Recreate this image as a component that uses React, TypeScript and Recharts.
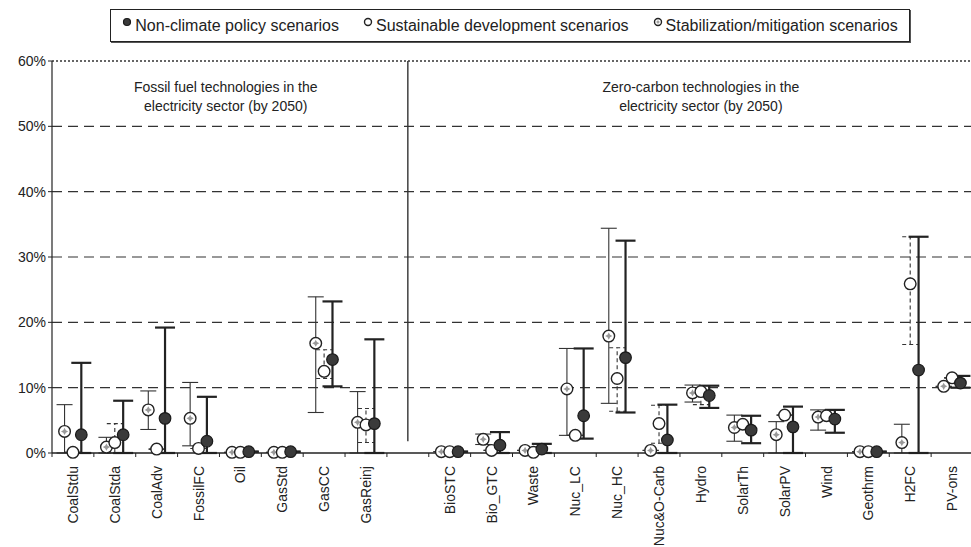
import React from 'react';
import {
  ScatterChart,
  Scatter,
  XAxis,
  YAxis,
  CartesianGrid,
  ErrorBar,
  ReferenceLine,
  ReferenceDot,
} from 'recharts';

// technologies, left group (fossil) then right group (zero-carbon)
const technologies = [
  'CoalStdu', 'CoalStda', 'CoalAdv', 'FossilFC', 'Oil', 'GasStd', 'GasCC', 'GasReinj',
  'BioSTC', 'Bio_GTC', 'Waste', 'Nuc_LC', 'Nuc_HC', 'Nuc&O-Carb', 'Hydro', 'SolarTh',
  'SolarPV', 'Wind', 'Geothrm', 'H2FC', 'PV-ons',
];
const FOSSIL_COUNT = 8;

// shares of electricity in 2050 (%), point + low/high of range
const nonClimate = [2.8, 2.8, 5.3, 1.8, 0.2, 0.2, 14.3, 4.5, 0.2, 1.2, 0.6, 5.7, 14.6, 2.0, 8.8, 3.5, 4.0, 5.2, 0.2, 12.7, 10.7];
const nonClimateLow = [0, 0, 0, 0, 0.2, 0.2, 10.2, 0, 0.2, 0, 0, 2.2, 6.2, 0, 6.9, 1.5, 0, 3.1, 0.2, 0, 10.0];
const nonClimateHigh = [13.8, 8.0, 19.2, 8.6, 0.2, 0.2, 23.2, 17.4, 0.2, 3.2, 1.4, 16.0, 32.5, 7.4, 10.3, 5.7, 7.1, 6.6, 0.2, 33.1, 11.8];

const sustainable = [0.1, 1.6, 0.6, 0.7, 0.1, 0.1, 12.5, 4.3, 0.2, 0.4, 0.1, 2.7, 11.4, 4.5, 9.4, 4.4, 5.8, 5.7, 0.2, 25.9, 11.5];
const sustainableLow = [0.1, 0, 0.6, 0.7, 0.1, 0.1, 11.4, 1.6, 0.2, 0.4, 0.1, 2.7, 6.4, 1.5, 7.4, 4.4, 5.8, 5.7, 0.2, 16.6, 11.5];
const sustainableHigh = [0.1, 4.5, 0.6, 0.7, 0.1, 0.1, 15.8, 6.8, 0.2, 0.4, 0.1, 2.7, 16.1, 7.3, 9.4, 4.4, 5.8, 5.7, 0.2, 33.1, 11.5];

const stabilization = [3.3, 0.9, 6.6, 5.3, 0.1, 0.1, 16.8, 4.7, 0.2, 2.1, 0.4, 9.8, 17.9, 0.4, 9.2, 3.9, 2.8, 5.5, 0.2, 1.6, 10.2];
const stabilizationLow = [0, 0, 3.6, 1.1, 0.1, 0.1, 6.2, 0, 0.2, 1.3, 0.4, 2.7, 7.6, 0.4, 7.8, 1.8, 0, 3.5, 0.2, 0, 10.2];
const stabilizationHigh = [7.4, 2.4, 9.5, 10.8, 0.1, 0.1, 23.9, 9.4, 0.2, 2.9, 0.4, 16.0, 34.4, 0.4, 10.4, 5.8, 4.8, 6.6, 0.2, 4.4, 10.2];

const yTicks = [0, 10, 20, 30, 40, 50, 60];
const gridValues = [10, 20, 30, 40, 50];

const panelTitles = [
  { x: 4.15, lines: ['Fossil fuel technologies in the', 'electricity sector (by 2050)'] },
  { x: 15.5, lines: ['Zero-carbon technologies in the', 'electricity sector (by 2050)'] },
];

const FONT = 'Arial, "Liberation Sans", sans-serif';
const CHART_W = 975;
const CHART_H = 547;
const MARGIN = { top: 61, right: 2, left: 0, bottom: 4 };
const Y_AXIS_W = 52;

// one empty slot between the groups
const slotLabels = [
  ...technologies.slice(0, FOSSIL_COUNT),
  '',
  ...technologies.slice(FOSSIL_COUNT),
];
const SLOT_COUNT = slotLabels.length;
const slotTicks = Array.from({ length: SLOT_COUNT + 1 }, (_, i) => i);
const slotOf = (i: number) => (i < FOSSIL_COUNT ? i : i + 1);

type Kind = 'stab' | 'sust' | 'non';

const build = (values: number[], low: number[], high: number[], offset: number) =>
  values.map((v, i) => ({
    x: slotOf(i) + 0.5 + offset,
    y: v,
    err: [v - low[i], high[i] - v],
  }));

const series: { key: Kind; name: string; data: any[] }[] = [
  { key: 'stab', name: 'Stabilization/mitigation scenarios', data: build(stabilization, stabilizationLow, stabilizationHigh, -0.2) },
  { key: 'sust', name: 'Sustainable development scenarios', data: build(sustainable, sustainableLow, sustainableHigh, 0) },
  { key: 'non', name: 'Non-climate policy scenarios', data: build(nonClimate, nonClimateLow, nonClimateHigh, 0.2) },
];
const legendOrder: Kind[] = ['non', 'sust', 'stab'];

const starPath = (cx: number, cy: number, s: number) =>
  `M${cx},${cy - s} L${cx + s * 0.35},${cy - s * 0.35} L${cx + s},${cy} L${cx + s * 0.35},${cy + s * 0.35} ` +
  `L${cx},${cy + s} L${cx - s * 0.35},${cy + s * 0.35} L${cx - s},${cy} L${cx - s * 0.35},${cy - s * 0.35} Z`;

const Marker = ({ cx, cy, kind, r = 5.8 }: { cx?: number; cy?: number; kind: Kind; r?: number }) => {
  if (cx == null || cy == null) return null;
  if (kind === 'non') {
    return <circle cx={cx} cy={cy} r={r} fill="#3a3a3a" stroke="#1a1a1a" strokeWidth={1.2} />;
  }
  if (kind === 'sust') {
    return <circle cx={cx} cy={cy} r={r} fill="#fff" stroke="#222" strokeWidth={1.4} />;
  }
  return (
    <g>
      <circle cx={cx} cy={cy} r={r} fill="#fff" stroke="#222" strokeWidth={1.4} />
      <path d={starPath(cx, cy, r * 0.62)} fill="#999" />
    </g>
  );
};

const SlotTick = (props: any) => {
  const { x, y, payload, width } = props;
  const idx = Math.round(payload.value);
  const label = slotLabels[idx];
  if (!label) return null;
  const plotW = typeof width === 'number' && width > 100 ? width : CHART_W - MARGIN.right - Y_AXIS_W;
  const half = plotW / SLOT_COUNT / 2;
  return (
    <g transform={`translate(${x + half},${y + 7})`}>
      <text transform="rotate(-90)" textAnchor="end" dy="0.36em" fontSize={14} fill="#222" fontFamily={FONT}>
        {label}
      </text>
    </g>
  );
};

const Legend = () => (
  <div
    style={{
      position: 'absolute',
      left: 110,
      top: 9,
      width: 800,
      height: 33,
      boxSizing: 'border-box',
      border: '1px solid #222',
      boxShadow: '1px 1px 0 #555',
      display: 'flex',
      alignItems: 'center',
      justifyContent: 'center',
      gap: 24,
      fontFamily: FONT,
      fontSize: 16,
      color: '#222',
      background: '#fff',
    }}
  >
    {legendOrder.map((k) => {
      const s = series.find((d) => d.key === k)!;
      return (
        <span key={k} style={{ display: 'flex', alignItems: 'flex-start' }}>
          <svg width={10} height={16} style={{ marginRight: 3 }}>
            <Marker cx={5} cy={5} kind={k} r={3.5} />
          </svg>
          <span>{s.name}</span>
        </span>
      );
    })}
  </div>
);

export default function App() {
  return (
    <div style={{ position: 'absolute', left: 0, top: 0, width: 971, height: 547, overflow: 'hidden', background: '#fff' }}>
      <Legend />
      <ScatterChart width={CHART_W} height={CHART_H} margin={MARGIN}>
        <CartesianGrid
          vertical={false}
          horizontalValues={gridValues}
          stroke="#333"
          strokeWidth={1.2}
          strokeDasharray="10 6"
        />
        <XAxis
          type="number"
          dataKey="x"
          domain={[0, SLOT_COUNT]}
          ticks={slotTicks}
          interval={0}
          height={90}
          tickSize={4}
          tickLine={{ stroke: '#222' }}
          axisLine={{ stroke: '#222', strokeWidth: 1.5 }}
          tick={<SlotTick />}
        />
        <YAxis
          type="number"
          dataKey="y"
          domain={[0, 60]}
          ticks={yTicks}
          width={Y_AXIS_W}
          tickSize={4}
          tickLine={{ stroke: '#222' }}
          axisLine={{ stroke: '#222', strokeWidth: 1.2 }}
          tickFormatter={(v) => `${v}%`}
          tick={{ fill: '#222', fontSize: 14, fontFamily: FONT }}
        />
        <ReferenceLine y={60} stroke="#333" strokeWidth={1.5} strokeDasharray="2 2" />
        <ReferenceLine
          segment={[{ x: FOSSIL_COUNT + 0.5, y: 1.8 }, { x: FOSSIL_COUNT + 0.5, y: 60 }]}
          stroke="#333"
          strokeWidth={1.4}
        />
        {panelTitles.flatMap((p) =>
          p.lines.map((line, j) => (
            <ReferenceDot
              key={`${p.x}-${j}`}
              x={p.x}
              y={56 - j * 2.9}
              r={0}
              fill="none"
              stroke="none"
              label={{ value: line, position: 'center', fontSize: 14, fill: '#222', fontFamily: FONT }}
            />
          )),
        )}
        {series.map((s) => (
          <Scatter
            key={s.key}
            name={s.name}
            data={s.data}
            isAnimationActive={false}
            shape={(p: any) => <Marker cx={p.cx} cy={p.cy} kind={s.key} />}
          >
            <ErrorBar
              dataKey="err"
              direction="y"
              width={s.key === 'non' ? 10 : 8}
              stroke={s.key === 'non' ? '#222' : '#333'}
              strokeWidth={s.key === 'non' ? 2.2 : 1.1}
              strokeDasharray={s.key === 'sust' ? '4 3' : undefined}
            />
          </Scatter>
        ))}
      </ScatterChart>
    </div>
  );
}
